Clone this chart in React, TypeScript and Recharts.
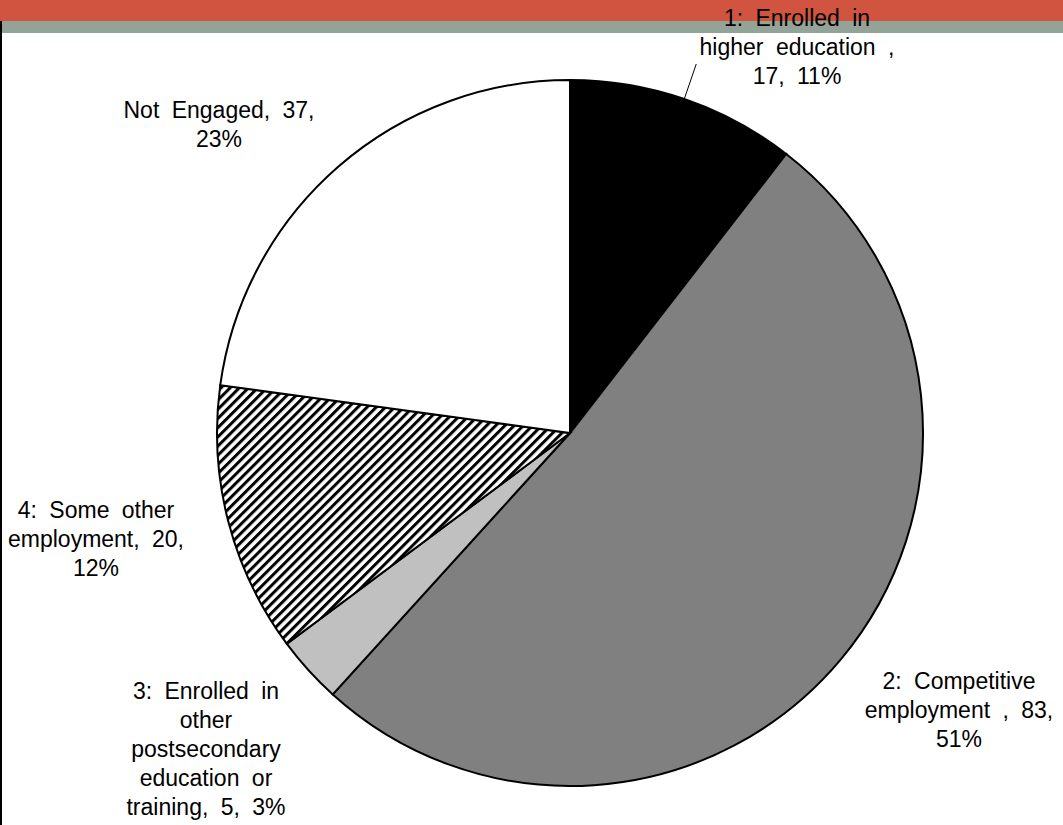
import { PieChart, Pie, Cell } from 'recharts';

const categories = [
  '1: Enrolled in higher education',
  '2: Competitive employment',
  '3: Enrolled in other postsecondary education or training',
  '4: Some other employment',
  'Not Engaged',
];
const counts = [17, 83, 5, 20, 37];
const percents = ['11%', '51%', '3%', '12%', '23%'];
const labelLines = [
  ['1: Enrolled in', 'higher education ,', '17, 11%'],
  ['2: Competitive', 'employment , 83,', '51%'],
  ['3: Enrolled in', 'other', 'postsecondary', 'education or', 'training, 5, 3%'],
  ['4: Some other', 'employment, 20,', '12%'],
  ['Not Engaged, 37,', '23%'],
];

const FILLS = ['#000000', '#808080', '#c0c0c0', 'url(#hatch)', '#ffffff'];
// label block position (center x, first line y) relative to pie center
const LABEL_POS = [
  [227, -415],
  [389, 248],
  [-364, 258],
  [-474, 77],
  [-351, -323],
];
const LINE_H = 29;
const FONT = '"Liberation Sans", Arial, sans-serif';

const data = categories.map((name, i) => ({ name, value: counts[i], pct: percents[i] }));

const renderLabel = (props: any) => {
  const { cx, cy, midAngle, outerRadius, index } = props;
  const [dx, dy] = LABEL_POS[index];
  const lines = labelLines[index];
  const rad = (Math.PI / 180) * midAngle;
  return (
    <g key={`lbl-${index}`}>
      {index === 0 && (
        <line
          x1={cx + outerRadius * Math.cos(rad)}
          y1={cy - outerRadius * Math.sin(rad)}
          x2={cx + (outerRadius + 37) * Math.cos(rad)}
          y2={cy - (outerRadius + 37) * Math.sin(rad)}
          stroke="#000"
          strokeWidth={1}
        />
      )}
      <text
        x={cx + dx}
        y={cy + dy}
        textAnchor="middle"
        fill="#000"
        fontSize={23}
        fontFamily={FONT}
        style={{ wordSpacing: 6 }}
      >
        {lines.map((l, j) => (
          <tspan key={j} x={cx + dx} y={cy + dy + j * LINE_H} dominantBaseline="central">
            {l}
          </tspan>
        ))}
      </text>
    </g>
  );
};

export default function App() {
  return (
    <div style={{ position: 'absolute', top: 0, left: 0, width: 1063, height: 825, background: '#fff', overflow: 'hidden' }}>
      <div style={{ position: 'absolute', top: 0, left: 0, width: 1063, height: 21, background: '#d05440' }} />
      <div style={{ position: 'absolute', top: 21, left: 0, width: 1063, height: 12, background: '#93a397' }} />
      <div style={{ position: 'absolute', top: 21, left: 0, width: 2, height: 804, background: '#000' }} />
      <div style={{ position: 'absolute', top: 0, left: 0 }}>
        <PieChart width={1063} height={825} margin={{ top: 0, right: 0, bottom: 0, left: 0 }}>
          <defs>
            <pattern id="hatch" patternUnits="userSpaceOnUse" width={6.5} height={6.5} patternTransform="rotate(45)">
              <rect x={0} y={0} width={6.5} height={6.5} fill="#fff" />
              <rect x={0} y={0} width={3} height={6.5} fill="#000" />
            </pattern>
          </defs>
          <Pie
            data={data}
            dataKey="value"
            nameKey="name"
            cx={570}
            cy={433}
            outerRadius={353}
            startAngle={90}
            endAngle={-270}
            stroke="#000"
            strokeWidth={2}
            label={renderLabel}
            labelLine={false}
            isAnimationActive={false}
          >
            {data.map((_, i) => (
              <Cell key={i} fill={FILLS[i]} />
            ))}
          </Pie>
        </PieChart>
      </div>
    </div>
  );
}
